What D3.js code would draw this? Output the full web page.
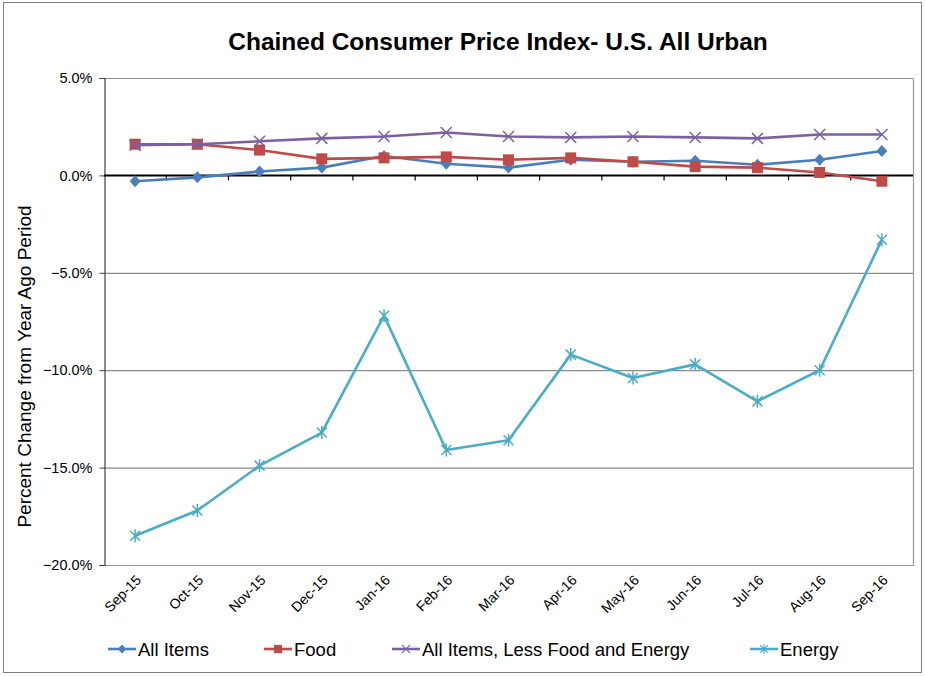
<!DOCTYPE html>
<html>
<head>
<meta charset="utf-8">
<script src="https://cdn.jsdelivr.net/npm/d3@7"></script>
<style>
  html, body { margin: 0; padding: 0; background: #fff; }
  svg { display: block; font-family: "Liberation Sans", Arial, sans-serif; }
</style>
</head>
<body>
<svg id="chart" width="925" height="676"></svg>
<script>
const categories = ["Sep-15","Oct-15","Nov-15","Dec-15","Jan-16","Feb-16","Mar-16","Apr-16","May-16","Jun-16","Jul-16","Aug-16","Sep-16"];
const allItems = [-0.3,-0.1,0.2,0.4,1.0,0.6,0.4,0.8,0.7,0.75,0.55,0.8,1.25];
const food     = [1.6,1.6,1.3,0.85,0.9,0.95,0.8,0.9,0.7,0.45,0.4,0.15,-0.3];
const core     = [1.55,1.6,1.75,1.9,2.0,2.2,2.0,1.95,2.0,1.95,1.9,2.1,2.1];
const energy   = [-18.5,-17.2,-14.9,-13.2,-7.2,-14.1,-13.6,-9.2,-10.4,-9.7,-11.6,-10.0,-3.3];
const yTicks = [5,0,-5,-10,-15,-20];
const seriesNames = ["All Items","Food","All Items, Less Food and Energy","Energy"];
const seriesColors = ["#4A7EBB","#BE4B48","#7D60A0","#4BACC6"];
const seriesMarkers = ["diamond","square","x","star"];

const series = [allItems, food, core, energy].map((vals, i) => ({
  name: seriesNames[i], color: seriesColors[i], marker: seriesMarkers[i],
  values: vals.map((v, j) => ({cat: categories[j], v}))
}));

const svg = d3.select("#chart");
const L = 104, R = 913, T = 78, B = 565;

// outer frame
svg.append("rect").attr("x", 3.5).attr("y", 2.5).attr("width", 918).attr("height", 670)
  .attr("fill", "none").attr("stroke", "#7f7f7f").attr("stroke-width", 1);

const x = d3.scalePoint().domain(categories).range([L, R]).padding(0.5);
const y = d3.scaleLinear().domain([-20, 5]).range([B, T]);
const step = x.step();

// title
svg.append("text").attr("x", 498).attr("y", 50).attr("text-anchor", "middle")
  .attr("font-size", 24.5).attr("font-weight", "bold").attr("fill", "#000")
  .text("Chained Consumer Price Index- U.S. All Urban");

// gridlines
svg.append("g").selectAll("line").data(yTicks.filter(t => t !== 0 && t !== -20)).join("line")
  .attr("x1", L).attr("x2", R).attr("y1", d => y(d) + 0.5).attr("y2", d => y(d) + 0.5)
  .attr("stroke", "#8c8c8c").attr("stroke-width", 1.2);

// plot border (right, bottom)
svg.append("path")
  .attr("d", `M${L},${y(-20)+0.5}H${R+0.5}V${y(5)+0.5}`)
  .attr("fill", "none").attr("stroke", "#9a9a9a").attr("stroke-width", 1.2);

// y axis
const yAxis = d3.axisLeft(y).tickValues(yTicks).tickSize(5).tickPadding(7)
  .tickFormat(d => d3.format(".1f")(d) + "%");
const gy = svg.append("g").attr("transform", `translate(${L+0.5},0)`).call(yAxis);
gy.select(".domain").attr("stroke", "#404040").attr("stroke-width", 1.2);
gy.selectAll(".tick line").attr("stroke", "#404040");
gy.selectAll(".tick text").attr("font-size", 14.5).attr("fill", "#000")
  .attr("font-family", "Liberation Sans, Arial, sans-serif");

// zero axis line with category ticks
const gx = svg.append("g").attr("transform", `translate(0,${y(0)})`);
gx.append("line").attr("x1", L).attr("x2", R).attr("y1", 0).attr("y2", 0)
  .attr("stroke", "#000").attr("stroke-width", 2);
gx.selectAll("line.ct").data(d3.range(1, categories.length)).join("line").attr("class", "ct")
  .attr("x1", i => L + i * step).attr("x2", i => L + i * step)
  .attr("y1", 0).attr("y2", 5).attr("stroke", "#000").attr("stroke-width", 1.2);

// x labels (rotated)
svg.append("g").selectAll("text").data(categories).join("text")
  .attr("transform", d => `translate(${x(d) + 7},${B + 16}) rotate(-45)`)
  .attr("text-anchor", "end").attr("font-size", 14).attr("fill", "#000")
  .text(d => d);

// y title
svg.append("text").attr("transform", `translate(31,${(T + B) / 2 + 45}) rotate(-90)`)
  .attr("text-anchor", "middle").attr("font-size", 19).attr("fill", "#000")
  .text("Percent Change from Year Ago Period");

// markers
function drawMarker(g, type, color) {
  if (type === "diamond") {
    g.append("path").attr("d", "M0,-6L5.5,0L0,6L-5.5,0Z").attr("fill", color);
  } else if (type === "square") {
    g.append("rect").attr("x", -5.5).attr("y", -5.5).attr("width", 11).attr("height", 11).attr("fill", color);
  } else if (type === "x") {
    g.append("path").attr("d", "M-5.5,-5.5L5.5,5.5M-5.5,5.5L5.5,-5.5").attr("stroke", color).attr("stroke-width", 1.5).attr("fill", "none");
  } else if (type === "star") {
    g.append("path").attr("d", "M-5,-5L5,5M-5,5L5,-5M0,-6.5L0,6.5").attr("stroke", color).attr("stroke-width", 1.5).attr("fill", "none");
  }
}

const line = d3.line().x(d => x(d.cat)).y(d => y(d.v));
series.forEach(s => {
  const g = svg.append("g");
  g.append("path").datum(s.values).attr("d", line).attr("fill", "none")
    .attr("stroke", s.color).attr("stroke-width", 2.6).attr("stroke-linejoin", "round");
  g.selectAll("g.m").data(s.values).join("g").attr("class", "m")
    .attr("transform", d => `translate(${x(d.cat)},${y(d.v)})`)
    .each(function() { drawMarker(d3.select(this), s.marker, s.color); });
});

// legend
const legendX = [108, 264, 392, 750];
const ly = 649;
series.forEach((s, i) => {
  const g = svg.append("g").attr("transform", `translate(${legendX[i]},${ly})`);
  g.append("line").attr("x1", 0).attr("x2", 28).attr("stroke", s.color).attr("stroke-width", 2.6);
  const m = g.append("g").attr("transform", "translate(14,0) scale(0.75)");
  drawMarker(m, s.marker, s.color);
  g.append("text").attr("x", 30).attr("y", 6.5).attr("font-size", 18.5).attr("fill", "#000").text(s.name);
});
</script>
</body>
</html>
